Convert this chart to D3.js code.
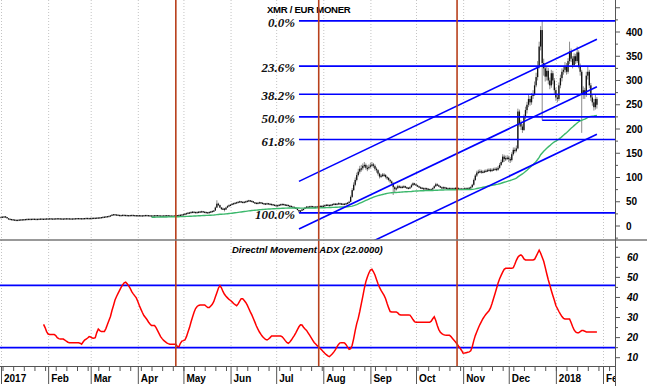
<!DOCTYPE html>
<html>
<head>
<meta charset="utf-8">
<script src="https://cdn.jsdelivr.net/npm/d3@7"></script>
<style>
  body { margin: 0; background: #fff; }
  svg { display: block; }
</style>
</head>
<body>
<div id="chart"></div>
<script>
// ---- data ----
const title = "XMR / EUR MONER";
const adxTitle = "Directnl Movement ADX (22.0000)";

// daily closes, 2017-01-01 .. 2018-01-28
const priceStart = "2017-01-01";
const closes = [
  // Jan
  19,19.5,20,18.5,16,15,14.5,14,13.5,13,12.8,13,13.5,13.8,14,14.2,14.5,14.8,15,14.8,15,15.2,15,14.8,15,15.2,15.5,15.3,15.2,15.5,15.8,
  // Feb
  15.8,16,15.7,15.5,15.8,16,16.2,16,15.8,15.5,15.7,16,16.1,16,15.8,15.6,15.8,16,16.2,16.5,16.4,16.2,16,16.3,16.5,16.8,16.6,16.5,
  // Mar
  16.8,17,17.2,17,17.5,17.8,18,18.5,19,19.5,20,20.5,21,22,23.5,24.5,24,23.5,23,22.5,22.8,23.2,23,22.8,22.5,22.6,22.8,23,22.7,22.5,22.3,
  // Apr
  22.5,22.3,22,22.2,22.5,22.8,22.6,22.3,22,21.8,22,22.3,22.5,22.2,21.9,21.6,21.8,22,22.2,22.4,22,21.8,21.5,21.6,21.9,22.2,22.5,23,23.5,24,
  // May
  24.5,25.5,26.5,27.5,28,29,29.5,29,28.5,29,29.5,30,30.5,29.5,29,28.5,28,29,30,31,32,38,46,43,38,35,36,34,38,41,43,
  // Jun
  44,46,47,48,49,50,51,50,49,50,51,52,53,52,51,49,48,47,48,49,48,47,46,46.5,47,46,45.5,45,44,43,
  // Jul
  43,42.5,44,45,45.5,44.5,44,43.5,42,41.5,40,39.5,38,36,33,30,32,34,35.5,38,40,39.5,40.5,41,40,39.5,40,40.5,41,41.5,41,
  // Aug
  42,43,44,43.5,43,44,45,46,45.5,46,47,46.5,46,45.5,46,47,48,50,60,74,85,95,105,112,118,119,124,126,120,119,122,
  // Sep
  125,127,124,118,115,108,102,104,106,105,101,99,95,92,88,80,76,78,82,81,80,81,82,80,79,78,80,84,88,86,
  // Oct
  84,82,80,79,78,77.5,78,77,76,75.5,76,78,82,86,84,82,80,79,80,79,78,77,78,77.5,77,78,78.5,78,77,76.5,77,
  // Nov
  77,78,77.5,78,79,80,85,95,104,110,112,113,111,112,113,114,115,116,114,116,117,118,116,120,126,132,143,138,140,141,
  // Dec
  138,136,148,157,155,160,236,212,205,198,225,239,250,262,255,268,272,290,307,330,370,404,336,325,308,320,300,290,315,300,280,
  // Jan 2018
  265,262,290,305,318,322,330,318,340,360,345,332,350,340,358,330,318,270,280,270,310,318,290,265,255,245,262,250
];

// daily highs and lows from May 2017 on (earlier wicks are below a pixel)
const wickStart = "2017-05-01";
const highs = [
  25.5,26.5,27.5,28.5,29,30,30.5,30,29.5,30,30.5,31,31.5,31,30,29.5,29,30,31,32,33,40,53,48,44,39,38,37,39.5,42.5,44.5,
  45,47,48,49,50,51,52,51.5,50.5,51,52,53,54,53.5,52.5,51,49.5,48.5,49,50,49.5,48.5,47.5,47.5,48,47.5,46.5,46.5,45,44.5,
  44,44,45,46,46.5,46,45,44.5,44,42.5,42,40.5,40,38.5,36.5,33.5,33,35,36.5,39,41,41,41.5,42,41.5,40.5,41,41.5,42,42.5,42.5,
  43,44,45,45,44.5,45,46,47.5,47,47,48.5,48,47.5,47,47,48,49.5,52,63,78,90,100,110,118,124,126,129,132,129,125,127,
  130,132,130,127,121,117,110,107,109,109,107,103,101,97,94,90,82,81,85,84,83,83,84,83,81,80,82,87,90,89,
  87,85,83,81.5,80.5,79.5,79.5,79,78,77,77.5,79.5,84,89,88,85.5,83,81.5,81.5,81,80,79.5,79.5,79.5,79,79.5,80,80,79.5,78.5,78.5,
  78.5,79.5,79.5,79.5,80.5,82,87,98,107,114,116,117,116,115,116,117,118,119,119,119,120,121,121,124,130,137,148,147,145,146,
  145,142,152,162,162,166,242,240,218,210,230,246,256,270,268,274,280,298,316,340,380,412,423,345,332,328,326,306,322,320,305,
  285,272,296,312,325,330,338,336,346,380,366,350,356,355,370,362,335,322,288,285,318,328,322,295,270,262,272,266
];
const lows = [
  23.5,24,25,26,27,27.5,28.5,28,27.5,28,28.5,29,29.5,28.5,28,27.5,27,27.5,28.5,29.5,30.5,31,37,41,37,33,33.5,30,33,37,40,
  42,43.5,45.5,46.5,47.5,48.5,49.5,49,48,48.5,49.5,50.5,51.5,51,49.5,48,46.5,46,46,47.5,47,46,45,45,46,45,44.5,44,43,42,
  42,41.5,42,43.5,44.5,43.5,43,42.5,41.5,40.5,39.5,38.5,37.5,35,32,27,29,31.5,33.5,35,37.5,38.5,39,40,39.5,38.5,39,39.5,40,40.5,40,
  40.5,41.5,42.5,42.5,42,42.5,43.5,44.5,44.5,45,45.5,45.5,45,44.5,44.5,45,46,47,49,58,72,82,92,102,108,112,115,120,116,113,116,
  119,121,120,114,110,104,98,99,101,101,98,95,92,88,84,64,70,73,76,78,78,78,79,78,77,76,77,79,83,84,
  83,81,79,77.5,76.5,76,76,75.5,74.5,74,74,75,77,80.5,83,81,79,77.5,77.5,77.5,76.5,75.5,76,76,75.5,76,77,76.5,75.5,75,75,
  75.5,76,76,76.5,77,78,79,83,93,101,107,109,108,109,110,111,112,113,111,112,114,115,113,114,118,124,130,132,134,136,
  132,130,133,145,150,152,158,205,198,192,196,220,232,245,248,250,262,268,286,300,325,362,218,310,298,300,292,282,285,292,272,
  258,255,258,284,298,312,316,312,314,334,338,325,328,334,336,325,310,192,262,262,266,302,284,258,248,238,240,242
];

// ADX(22), daily from 2017-01-29
const adxStart = "2017-01-29";
const adx = [
  26.6,25,23,
  21.8,21.6,21.6,21.6,21.6,21,20,19.5,19.3,19.3,19.3,18.8,18.2,17.7,17.5,17.5,17.5,17.5,17.5,17.5,17.4,17.2,16.7,17.8,18.8,19.3,19.8,20.5,
  20.3,19.8,19.7,20,22.5,24.3,23.5,23,23,23,24.5,26.5,28.5,30.5,33.5,36,38.7,40.5,42,43.5,45,46.3,47.3,47.6,46.8,45.8,44.5,42.9,41.8,40.8,39.8,
  38,36,34.2,32.5,31,30,29,27.8,26.8,26,26,26,25,23.5,22,20.5,19.5,18.6,18,17.4,17,16.7,16.7,16.7,16.7,16.7,15.6,15.4,17.2,18.3,
  18.5,18.8,20.5,22.8,25,27.8,30.3,32.6,34.5,35.5,36,36.2,36.3,36.3,36.3,35.6,35,35,35.8,36.6,38,40.2,42.4,44.6,45.9,44.8,43,41.6,40.6,39.8,39,
  38.5,37.8,37,36.4,35.9,36.8,38.2,39.4,39.4,38.5,37.5,36.2,34.5,32.8,31.3,29.5,27.7,25.8,24.2,22.8,21.6,20.6,19.8,19.1,18.8,19.3,20,20.8,20.8,20.8,
  20.8,20.8,20.8,20.8,20.4,19.5,18.5,17.6,17.2,17.8,18.8,20,21.1,22.5,24,25.4,26.4,26.3,25.2,24.3,23.6,22.4,21.2,20,18.8,17.6,16.8,16,15.3,14.6,13.8,
  13,12.2,11.5,10.9,10.5,11.2,12,12.9,14,15.4,16.6,17.4,17.5,17.5,17.3,16.5,15.3,14.2,14.5,16.2,19.5,23.5,27,29.6,33,36.8,40.5,44.5,47.8,50.2,52.2,
  53.6,54,52.8,51.2,49,46.8,45,43.5,42.3,41,39.4,37,34.8,33,32.8,32.8,32.8,32.8,32.3,31.5,31.3,31.3,31.3,31.3,31.3,31.3,31.2,30.2,29,28,
  27.6,27.6,27.6,27.6,27.6,27.6,27.6,27.6,27.6,27.6,28.2,29.4,30.4,28.5,26,24,22.7,22,21.5,21.3,21.2,21.2,21.2,20.5,19.6,18.7,17.8,16.8,15.7,14.7,13.6,
  12.2,12.3,12.5,12.7,12.9,13.4,15.5,18.5,21,22.9,24.8,26.5,28,29.4,30.6,31.6,32.5,33.4,34.8,37,39.5,42,44.6,47.2,49.3,51,52.6,54,54.5,54.5,
  54.5,54.5,54.5,54.8,56.5,58.5,60,60.8,61.2,60.5,59.2,58.7,58.7,58.7,58.7,58.7,58.7,59,60.5,62,63.5,62,60,58,55,51.8,48.8,46.2,43.5,41,38.6,
  36,34.5,33,31.7,30.5,29.6,29.3,29.3,29.3,29.3,27.5,25.5,23.8,22.8,22.4,22.4,23,23.5,23.5,23.2,22.8,22.8,22.8,22.8,22.8,22.8,22.8,22.8
];
const adxLevels = [46, 15];

// drawing tools on the chart
const maPeriod = 100;
const fibStart = "2017-07-16";
const fibLevels = [0, 23.6, 38.2, 50, 61.8, 100];
const channelDates = ["2017-07-16", "2018-01-28"];
const channelMid = [-6, 287];
const channelHalfWidth = 98;
const supportDates = ["2017-12-23", "2018-01-17"];
const supportValue = 218;
const markerDates = ["2017-04-26", "2017-07-29", "2017-10-28"];

const priceTicks = d3.range(-25, 451, 25);
const priceLabels = [0, 50, 100, 150, 200, 250, 300, 350, 400];
const adxTicks = d3.range(5, 66, 5);
const adxLabels = [10, 20, 30, 40, 50, 60];

// ---- layout ----
const W = 647, H = 386;
const plotRight = 615;
const topBottom = 240;
const axisY = 366;

const parse = d3.utcParse("%Y-%m-%d");
const dayAt = (start, i) => d3.utcDay.offset(parse(start), i);

const x = d3.scaleUtc()
  .domain([parse("2017-01-01"), parse("2018-02-01")])
  .range([1, 603]);
const yP = d3.scaleLinear().domain([0, 400]).range([226, 32]);
const yA = d3.scaleLinear().domain([10, 60]).range([357.7, 257.3]);

const svg = d3.select("#chart").append("svg")
  .attr("width", W).attr("height", H)
  .style("font-family", "Arial, 'Liberation Sans', sans-serif");

const defs = svg.append("defs");
defs.append("clipPath").attr("id", "clipTop")
  .append("rect").attr("x", 0).attr("y", 0).attr("width", plotRight).attr("height", topBottom);
defs.append("clipPath").attr("id", "clipAdx")
  .append("rect").attr("x", 0).attr("y", topBottom).attr("width", plotRight).attr("height", axisY - topBottom);
defs.append("clipPath").attr("id", "clipAxis")
  .append("rect").attr("x", 0).attr("y", axisY).attr("width", plotRight).attr("height", H - axisY);

// candles
const wickOffset = d3.utcDay.count(parse(priceStart), parse(wickStart));
const candles = closes.map((c, i) => {
  const o = i ? closes[i - 1] : c;
  const j = i - wickOffset;
  return {
    date: dayAt(priceStart, i), o, c,
    h: j >= 0 ? highs[j] : Math.max(o, c),
    l: j >= 0 ? lows[j] : Math.min(o, c)
  };
});

// 100-day exponential average, seeded with the simple mean
const ema = [];
let prevMa = d3.mean(closes.slice(0, maPeriod));
ema.push({ date: dayAt(priceStart, maPeriod - 1), v: prevMa });
const k = 2 / (maPeriod + 1);
for (let i = maPeriod; i < closes.length; i++) {
  prevMa = closes[i] * k + prevMa * (1 - k);
  ema.push({ date: dayAt(priceStart, i), v: prevMa });
}

// month grid
const months = d3.utcMonth.range(parse("2017-01-01"), parse("2018-02-02"));
svg.append("g").selectAll("line").data(months).join("line")
  .attr("x1", d => x(d) + 0.5).attr("x2", d => x(d) + 0.5)
  .attr("y1", 0).attr("y2", axisY)
  .attr("stroke", "#c4c4c4").attr("stroke-width", 1)
  .attr("stroke-dasharray", "1,2");

// ---- price panel ----
const pricePanel = svg.append("g").attr("clip-path", "url(#clipTop)");

pricePanel.append("g").selectAll("line").data(candles).join("line")
  .attr("x1", d => x(d.date)).attr("x2", d => x(d.date))
  .attr("y1", d => yP(d.h)).attr("y2", d => yP(d.l))
  .attr("stroke", "#8c8c8c").attr("stroke-width", 1);

pricePanel.append("g").selectAll("rect").data(candles).join("rect")
  .attr("x", d => x(d.date) - 0.65)
  .attr("width", 1.3)
  .attr("y", d => yP(Math.max(d.o, d.c)))
  .attr("height", d => Math.max(1.4, Math.abs(yP(d.o) - yP(d.c))))
  .attr("fill", "#111");

pricePanel.append("path").datum(ema)
  .attr("fill", "none").attr("stroke", "#3cb86c").attr("stroke-width", 1.4)
  .attr("d", d3.line().x(d => x(d.date)).y(d => yP(d.v)));

// fibonacci retracement
const fibCandles = candles.filter(d => d.date >= parse(fibStart));
const fibHigh = d3.max(fibCandles, d => d.h);
const fibLow = d3.min(fibCandles, d => d.l);
const fibs = fibLevels.map(p => ({ p, v: fibHigh - (fibHigh - fibLow) * p / 100 }));
pricePanel.append("g").selectAll("line").data(fibs).join("line")
  .attr("x1", x(parse(fibStart))).attr("x2", plotRight)
  .attr("y1", d => yP(d.v)).attr("y2", d => yP(d.v))
  .attr("stroke", "#0000ff").attr("stroke-width", 1.6);

// regression channel
pricePanel.append("g").selectAll("line").data([-1, 0, 1]).join("line")
  .attr("x1", x(parse(channelDates[0]))).attr("x2", x(parse(channelDates[1])))
  .attr("y1", s => yP(channelMid[0] + s * channelHalfWidth))
  .attr("y2", s => yP(channelMid[1] + s * channelHalfWidth))
  .attr("stroke", "#0000ff").attr("stroke-width", 1.6);

pricePanel.append("line")
  .attr("x1", x(parse(supportDates[0]))).attr("x2", x(parse(supportDates[1])))
  .attr("y1", yP(supportValue)).attr("y2", yP(supportValue))
  .attr("stroke", "#0000ff").attr("stroke-width", 1.6);

svg.append("g").selectAll("text").data(fibs).join("text")
  .attr("x", 295).attr("y", d => yP(d.v) + 6)
  .attr("text-anchor", "end")
  .style("font-family", "'Liberation Serif', 'Times New Roman', serif")
  .style("font-style", "italic").style("font-weight", "bold")
  .style("font-size", "13px").attr("fill", "#111")
  .text(d => d.p.toFixed(1) + "%");

svg.append("text")
  .attr("x", 267).attr("y", 13)
  .style("font-size", "9.6px").style("font-weight", "bold")
  .style("letter-spacing", "-0.3px")
  .text(title);

// ---- ADX panel ----
const adxPanel = svg.append("g").attr("clip-path", "url(#clipAdx)");
adxPanel.append("g").selectAll("line").data(adxLevels).join("line")
  .attr("x1", 0).attr("x2", plotRight)
  .attr("y1", d => yA(d)).attr("y2", d => yA(d))
  .attr("stroke", "#0000ff").attr("stroke-width", 1.6);

adxPanel.append("path").datum(adx)
  .attr("fill", "none").attr("stroke", "#ff0000").attr("stroke-width", 1.5)
  .attr("d", d3.line().x((d, i) => x(dayAt(adxStart, i))).y(d => yA(d)));

svg.append("text")
  .attr("x", 232).attr("y", 252.5)
  .style("font-size", "9.5px").style("font-weight", "bold").style("font-style", "italic")
  .text(adxTitle);

// vertical markers
svg.append("g").selectAll("line").data(markerDates).join("line")
  .attr("x1", d => x(parse(d))).attr("x2", d => x(parse(d)))
  .attr("y1", 0).attr("y2", axisY)
  .attr("stroke", "#b8401c").attr("stroke-width", 1.6);

// panel separator
svg.append("line")
  .attr("x1", 0).attr("x2", W).attr("y1", topBottom).attr("y2", topBottom)
  .attr("stroke", "#777").attr("stroke-width", 1.5);

// ---- right axes ----
svg.append("line")
  .attr("x1", plotRight + 0.5).attr("x2", plotRight + 0.5).attr("y1", 0).attr("y2", H)
  .attr("stroke", "#555").attr("stroke-width", 1);

svg.append("g").selectAll("line").data(priceTicks.filter(v => yP(v) < topBottom)).join("line")
  .attr("x1", plotRight).attr("x2", d => plotRight + (d % 50 === 0 ? 5 : 3))
  .attr("y1", d => yP(d)).attr("y2", d => yP(d))
  .attr("stroke", "#555");
svg.append("g").selectAll("text").data(priceLabels).join("text")
  .attr("x", 626).attr("y", d => yP(d) + 3.5)
  .style("font-size", "10px").style("font-weight", "bold")
  .text(d => d);

svg.append("g").selectAll("line").data(adxTicks.filter(v => yA(v) > topBottom && yA(v) < axisY)).join("line")
  .attr("x1", plotRight).attr("x2", d => plotRight + (d % 10 === 0 ? 5 : 3))
  .attr("y1", d => yA(d)).attr("y2", d => yA(d))
  .attr("stroke", "#555");
svg.append("g").selectAll("text").data(adxLabels).join("text")
  .attr("x", 627).attr("y", d => yA(d) + 3.5)
  .style("font-size", "10px").style("font-weight", "bold").style("font-style", "italic")
  .text(d => d);

// ---- time axis ----
svg.append("line")
  .attr("x1", 0).attr("x2", plotRight).attr("y1", axisY + 0.5).attr("y2", axisY + 0.5)
  .attr("stroke", "#555");
const xAxis = svg.append("g").attr("clip-path", "url(#clipAxis)");
const weeks = d3.utcMonday.range(parse("2017-01-01"), parse("2018-02-10"));
xAxis.append("g").selectAll("line").data(weeks).join("line")
  .attr("x1", d => x(d) + 0.5).attr("x2", d => x(d) + 0.5)
  .attr("y1", axisY).attr("y2", axisY + 5)
  .attr("stroke", "#555");
xAxis.append("g").selectAll("line").data(months).join("line")
  .attr("x1", d => x(d) + 0.5).attr("x2", d => x(d) + 0.5)
  .attr("y1", axisY).attr("y2", axisY + 18)
  .attr("stroke", "#555");
const fmtMonth = d => d.getUTCMonth() === 0 ? d3.utcFormat("%Y")(d) : d3.utcFormat("%b")(d);
xAxis.append("g").selectAll("text").data(months).join("text")
  .attr("x", d => x(d) + 3).attr("y", axisY + 16)
  .style("font-size", "10px").style("font-weight", "bold")
  .text(fmtMonth);
</script>
</body>
</html>
